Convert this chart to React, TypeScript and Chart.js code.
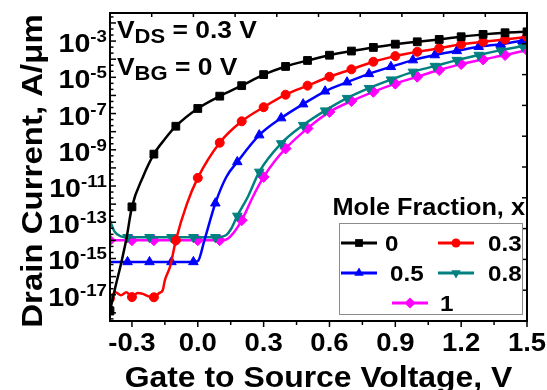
import { useEffect, useRef } from "react";
import { Chart, registerables } from "chart.js";

Chart.register(...registerables);

const FONT = '"Liberation Sans", Arial, sans-serif';
const STRETCH = 1.1;

// Axis ranges and tick values
const X_MIN = -0.4;
const X_MAX = 1.5;
const X_MAJOR = [-0.3, 0.0, 0.3, 0.6, 0.9, 1.2, 1.5];
const X_MINOR = [-0.15, 0.15, 0.45, 0.75, 1.05, 1.35];
const Y_MIN_EXP = -18.45;
const Y_MAX_EXP = -1.45;
const Y_LABEL_EXP = [-17, -15, -13, -11, -9, -7, -5, -3];

// Gate voltage (V) and log10 of drain current (A/µm) per mole fraction
const V_X0 = [-0.4, -0.375, -0.35, -0.325, -0.3, -0.25, -0.2, -0.15, -0.1, 0.0, 0.1, 0.2, 0.3, 0.4, 0.5, 0.6, 0.7, 0.8, 0.9, 1.0, 1.1, 1.2, 1.3, 1.4, 1.5];
const LOG_I_X0 = [-17.9, -16.55, -15.3, -13.9, -12.15, -10.5, -9.24, -8.41, -7.7, -6.72, -6.04, -5.46, -4.85, -4.4, -4.07, -3.78, -3.55, -3.35, -3.17, -3.04, -2.91, -2.76, -2.63, -2.54, -2.49];

const V_X03 = [-0.4, -0.375, -0.35, -0.325, -0.3, -0.275, -0.25, -0.225, -0.2, -0.175, -0.16, -0.15, -0.125, -0.1, -0.05, 0.0, 0.1, 0.2, 0.3, 0.4, 0.5, 0.6, 0.7, 0.8, 0.9, 1.0, 1.1, 1.2, 1.3, 1.4, 1.5];
const LOG_I_X03 = [-17.2, -16.87, -17.03, -16.87, -17.13, -16.9, -16.95, -17.09, -17.14, -16.9, -16.76, -16.2, -15.4, -14.0, -12.0, -10.55, -8.61, -7.43, -6.65, -5.96, -5.46, -4.97, -4.56, -4.14, -3.83, -3.59, -3.4, -3.18, -3.04, -2.91, -2.76];

const V_X05 = [-0.4, -0.32, -0.22, -0.12, -0.02, 0.0, 0.03, 0.08, 0.13, 0.18, 0.28, 0.38, 0.48, 0.58, 0.68, 0.78, 0.88, 0.98, 1.08, 1.18, 1.28, 1.38, 1.48, 1.5];
const LOG_I_X05 = [-15.19, -15.19, -15.19, -15.19, -15.19, -15.15, -14.0, -11.95, -10.5, -9.67, -8.19, -7.25, -6.48, -5.77, -5.27, -4.81, -4.42, -4.05, -3.77, -3.54, -3.31, -3.17, -2.98, -2.97];

const V_X08 = [-0.4, -0.38, -0.35, -0.32, -0.22, -0.12, -0.02, 0.08, 0.13, 0.15, 0.18, 0.23, 0.28, 0.38, 0.48, 0.58, 0.68, 0.78, 0.88, 0.98, 1.08, 1.18, 1.28, 1.38, 1.48, 1.5];
const LOG_I_X08 = [-12.9, -13.5, -13.78, -13.83, -13.83, -13.83, -13.83, -13.83, -13.7, -13.4, -12.65, -11.55, -10.22, -8.65, -7.64, -6.84, -6.15, -5.6, -5.13, -4.7, -4.38, -4.05, -3.77, -3.5, -3.28, -3.25];

const V_X1 = [-0.4, -0.3, -0.2, -0.1, 0.0, 0.1, 0.13, 0.15, 0.2, 0.25, 0.3, 0.35, 0.4, 0.5, 0.6, 0.7, 0.8, 0.9, 1.0, 1.1, 1.2, 1.3, 1.4, 1.5];
const LOG_I_X1 = [-13.99, -13.99, -13.99, -13.99, -13.99, -13.99, -13.95, -13.77, -12.89, -11.62, -10.5, -9.63, -8.93, -7.82, -6.91, -6.31, -5.8, -5.35, -4.97, -4.6, -4.27, -4.01, -3.77, -3.5];

type Series = {
  label: string;
  color: string;
  style: string;
  rotation: number;
  radius: number;
  markerPhase: number;
  v: number[];
  logI: number[];
};

const SERIES: Series[] = [
  { label: "0", color: "#000000", style: "rect", rotation: 0, radius: 5.5, markerPhase: 0, v: V_X0, logI: LOG_I_X0 },
  { label: "0.3", color: "#ff0000", style: "circle", rotation: 0, radius: 4.5, markerPhase: 0, v: V_X03, logI: LOG_I_X03 },
  { label: "0.5", color: "#0000ff", style: "triangle", rotation: 0, radius: 5.5, markerPhase: -0.02, v: V_X05, logI: LOG_I_X05 },
  { label: "0.8", color: "#008080", style: "triangle", rotation: 180, radius: 5.5, markerPhase: -0.02, v: V_X08, logI: LOG_I_X08 },
  { label: "1", color: "#ff00ff", style: "rectRot", rotation: 0, radius: 5.5, markerPhase: 0, v: V_X1, logI: LOG_I_X1 },
];

// Legend placement: [symbol centre x, label left x, row centre y]
const LEGEND_SLOTS = [
  [359, 385, 243],
  [456, 488, 243],
  [359, 390, 273],
  [456, 488, 273],
  [410, 440, 303],
];

function drawText(ctx: CanvasRenderingContext2D, str: string, x: number, y: number, size: number, align: "left" | "center" | "right" = "left") {
  ctx.save();
  ctx.font = `bold ${size}px ${FONT}`;
  const w = ctx.measureText(str).width * STRETCH;
  const x0 = align === "center" ? x - w / 2 : align === "right" ? x - w : x;
  ctx.translate(x0, y);
  ctx.scale(STRETCH, 1);
  ctx.textAlign = "left";
  ctx.textBaseline = "alphabetic";
  ctx.fillText(str, 0, 0);
  ctx.restore();
  return w;
}

function textWidth(ctx: CanvasRenderingContext2D, str: string, size: number) {
  ctx.save();
  ctx.font = `bold ${size}px ${FONT}`;
  const w = ctx.measureText(str).width * STRETCH;
  ctx.restore();
  return w;
}

function drawMarker(ctx: CanvasRenderingContext2D, s: Series, x: number, y: number, r: number) {
  ctx.beginPath();
  if (s.style === "rect") {
    const h = r * Math.SQRT1_2;
    ctx.rect(x - h, y - h, 2 * h, 2 * h);
  } else if (s.style === "circle") {
    ctx.arc(x, y, r, 0, Math.PI * 2);
  } else if (s.style === "rectRot") {
    ctx.moveTo(x - r, y);
    ctx.lineTo(x, y - r);
    ctx.lineTo(x + r, y);
    ctx.lineTo(x, y + r);
    ctx.closePath();
  } else {
    const dir = s.rotation === 180 ? -1 : 1;
    for (let k = 0; k < 3; k++) {
      const ang = (k * 2 * Math.PI) / 3;
      const px = x + Math.sin(ang) * r;
      const py = y - dir * Math.cos(ang) * r;
      if (k === 0) ctx.moveTo(px, py);
      else ctx.lineTo(px, py);
    }
    ctx.closePath();
  }
  ctx.fill();
}

const decorations = {
  id: "decorations",
  afterDraw(chart: any) {
    const { ctx, chartArea: a, scales } = chart;
    const xs = scales.x;
    const ys = scales.y;
    ctx.save();
    ctx.strokeStyle = "#000";
    ctx.fillStyle = "#000";
    ctx.lineCap = "butt";

    const seg = (x1: number, y1: number, x2: number, y2: number) => {
      ctx.beginPath();
      ctx.moveTo(x1, y1);
      ctx.lineTo(x2, y2);
      ctx.stroke();
    };

    ctx.lineWidth = 1.5;
    // bottom axis ticks (outward)
    X_MAJOR.forEach((v) => {
      const px = xs.getPixelForValue(v);
      seg(px, a.bottom, px, a.bottom + 6);
    });
    X_MINOR.forEach((v) => {
      const px = xs.getPixelForValue(v);
      seg(px, a.bottom, px, a.bottom + 4);
    });
    // left axis ticks (inward): decades and thirds of a decade
    for (let e = -19; e <= -1; e++) {
      for (let k = 0; k < 3; k++) {
        const ex = e + k / 3;
        if (ex < Y_MIN_EXP || ex > Y_MAX_EXP) continue;
        const py = ys.getPixelForValue(Math.pow(10, ex));
        seg(a.left, py, a.left + (k === 0 ? 6 : 3.5), py);
      }
    }
    // top and right axes: ten equal divisions, inward ticks
    for (let i = 1; i < 10; i++) {
      const py = a.top + ((a.bottom - a.top) * i) / 10;
      seg(a.right, py, a.right - 5, py);
      const px = a.left + ((a.right - a.left) * i) / 10;
      seg(px, a.top, px, a.top + 4);
    }

    // frame
    ctx.lineWidth = 2;
    ctx.strokeRect(a.left, a.top, a.right - a.left, a.bottom - a.top);

    // x tick labels
    X_MAJOR.forEach((v) => {
      drawText(ctx, v.toFixed(1), xs.getPixelForValue(v), 351, 25, "center");
    });
    // y tick labels with superscript exponent
    Y_LABEL_EXP.forEach((e) => {
      const py = ys.getPixelForValue(Math.pow(10, e));
      const sup = String(e);
      const wSup = textWidth(ctx, sup, 17);
      const right = a.left - 3;
      drawText(ctx, sup, right - wSup, py + 1, 17);
      drawText(ctx, "10", right - wSup, py + 11, 26, "right");
    });

    // axis titles
    drawText(ctx, "Gate to Source Voltage, V", (a.left + a.right) / 2, 387, 29, "center");
    ctx.save();
    ctx.translate(42, (a.top + a.bottom) / 2 + 4);
    ctx.rotate(-Math.PI / 2);
    drawText(ctx, "Drain Current, A/μm", 0, 0, 30, "center");
    ctx.restore();

    // bias conditions
    const annot = (sub: string, rest: string, x: number, base: number) => {
      let cx = x;
      cx += drawText(ctx, "V", cx, base, 24);
      cx += drawText(ctx, sub, cx, base + 5, 20);
      drawText(ctx, rest, cx, base, 24);
    };
    annot("DS", " = 0.3 V", a.left + 7, 38);
    annot("BG", " = 0 V", a.left + 7, 75);

    // legend
    drawText(ctx, "Mole Fraction, x", a.right - 2, 215, 23, "right");
    ctx.fillStyle = "#fff";
    ctx.fillRect(339, 223, 183, 91);
    ctx.strokeStyle = "#8c8c8c";
    ctx.lineWidth = 1;
    ctx.strokeRect(339.5, 223.5, 183, 91);
    SERIES.forEach((s, i) => {
      const [sx, lx, ry] = LEGEND_SLOTS[i];
      ctx.strokeStyle = s.color;
      ctx.fillStyle = s.color;
      ctx.lineWidth = 3;
      seg(sx - 18, ry, sx + 18, ry);
      drawMarker(ctx, s, sx, ry, s.radius);
      ctx.fillStyle = "#000";
      drawText(ctx, s.label, lx, ry + 8, 22);
    });

    ctx.restore();
  },
};

export default function App() {
  const ref = useRef<HTMLCanvasElement | null>(null);

  useEffect(() => {
    if (!ref.current) return;
    const isMarker = (x: number, phase: number) => {
      const k = (x - phase) / 0.1;
      return Math.abs(k - Math.round(k)) < 1e-6;
    };
    const chart = new Chart(ref.current, {
      type: "line",
      data: {
        datasets: SERIES.map((s) => ({
          label: s.label,
          data: s.v.map((x, i) => ({ x, y: Math.pow(10, s.logI[i]) })),
          borderColor: s.color,
          backgroundColor: s.color,
          borderWidth: 2.5,
          pointStyle: s.style as any,
          pointRotation: s.rotation,
          pointRadius: (c: any) => (isMarker(c.raw.x, s.markerPhase) ? s.radius : 0),
          pointBorderWidth: 1,
          cubicInterpolationMode: "monotone" as const,
          clip: 0,
        })),
      },
      options: {
        responsive: false,
        animation: false,
        events: [],
        layout: { padding: { top: 13, right: 20, left: 0, bottom: 0 } },
        plugins: { legend: { display: false }, tooltip: { enabled: false } },
        scales: {
          x: {
            type: "linear",
            min: X_MIN,
            max: X_MAX,
            ticks: { display: false },
            grid: { display: false },
            border: { display: false },
            afterBuildTicks: (s: any) => {
              s.ticks = X_MAJOR.map((value) => ({ value }));
            },
            afterFit: (s: any) => {
              s.height = 69;
            },
          },
          y: {
            type: "logarithmic",
            min: Math.pow(10, Y_MIN_EXP),
            max: Math.pow(10, Y_MAX_EXP),
            ticks: { display: false },
            grid: { display: false },
            border: { display: false },
            afterFit: (s: any) => {
              s.width = 110;
            },
          },
        },
      },
      plugins: [decorations],
    });
    return () => chart.destroy();
  }, []);

  return (
    <div style={{ position: "fixed", left: 0, top: 0, width: 547, height: 390, background: "#fff" }}>
      <canvas ref={ref} width={547} height={390} />
    </div>
  );
}
